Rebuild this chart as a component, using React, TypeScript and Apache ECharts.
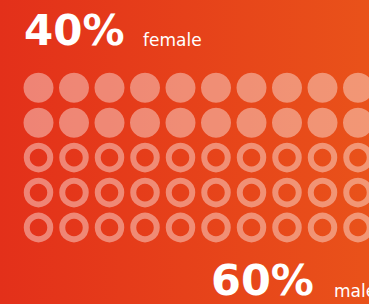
import React, { useEffect, useRef } from "react";
import * as echarts from "echarts";

const groups = ["female", "male"];
const shares = [40, 60];
const columns = 10;
const rows = 5;

const totalDots = columns * rows;
const femaleDots = Math.round((shares[0] / 100) * totalDots);

const filledPoints: number[][] = [];
const ringPoints: number[][] = [];
for (let i = 0; i < totalDots; i++) {
  const r = Math.floor(i / columns);
  const c = i % columns;
  if (i < femaleDots) filledPoints.push([c, r]);
  else ringPoints.push([c, r]);
}

export default function App() {
  const ref = useRef<HTMLDivElement>(null);
  useEffect(() => {
    if (!ref.current) return;
    const chart = echarts.init(ref.current, null, { renderer: "svg" });
    const dotColor = "rgba(255,255,255,0.5)";
    const font = "'DejaVu Sans', Verdana, sans-serif";
    chart.setOption({
      animation: false,
      backgroundColor: new echarts.graphic.LinearGradient(0, 0, 1, 0, [
        { offset: 0, color: "#e3301a" },
        { offset: 1, color: "#e9521a" },
      ]),
      grid: { left: 38.5, right: 11, top: 87.7, bottom: 76.5 },
      xAxis: { type: "value", min: 0, max: columns - 1, show: false },
      yAxis: { type: "value", min: 0, max: rows - 1, inverse: true, show: false },
      series: [
        {
          type: "scatter",
          data: filledPoints,
          symbol: "circle",
          symbolSize: 30,
          itemStyle: { color: dotColor },
          silent: true,
        },
        {
          type: "scatter",
          data: ringPoints,
          symbol: "circle",
          symbolSize: 23.5,
          itemStyle: { color: "rgba(0,0,0,0)", borderColor: dotColor, borderWidth: 6 },
          silent: true,
        },
      ],
      graphic: [
        {
          type: "text",
          x: 24,
          y: 30,
          style: {
            text: shares[0] + "%",
            fill: "#fff",
            font: "bold 42px " + font,
            verticalAlign: "middle",
          },
        },
        {
          type: "text",
          x: 143,
          y: 40,
          style: { text: groups[0], fill: "#fff", font: "17px " + font, verticalAlign: "middle" },
        },
        {
          type: "text",
          x: 211,
          y: 280,
          style: {
            text: shares[1] + "%",
            fill: "#fff",
            font: "bold 43px " + font,
            verticalAlign: "middle",
          },
        },
        {
          type: "text",
          x: 334,
          y: 291,
          style: { text: groups[1], fill: "#fff", font: "17px " + font, verticalAlign: "middle" },
        },
      ],
    });
    return () => chart.dispose();
  }, []);
  return (
    <div
      ref={ref}
      style={{ position: "absolute", left: 0, top: 0, width: 369, height: 304 }}
    />
  );
}
